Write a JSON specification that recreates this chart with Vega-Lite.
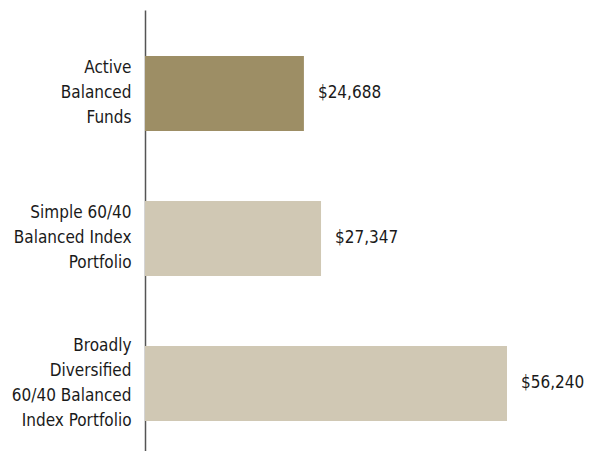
{
  "$schema": "https://vega.github.io/schema/vega-lite/v6.json",
  "width": 440,
  "height": 441,
  "autosize": {"type": "none"},
  "padding": {"left": 145, "top": 10, "right": 4, "bottom": 0},
  "background": "white",
  "config": {"view": {"stroke": null}, "font": "DejaVu Sans Condensed"},
  "data": {
    "values": [
      {"portfolio": "Active|Balanced|Funds", "value": 24688, "kind": "active"},
      {"portfolio": "Simple 60/40|Balanced Index|Portfolio", "value": 27347, "kind": "index"},
      {"portfolio": "Broadly|Diversified|60/40 Balanced|Index Portfolio", "value": 56240, "kind": "index"}
    ]
  },
  "encoding": {
    "y": {
      "field": "portfolio",
      "type": "nominal",
      "sort": null,
      "scale": {"paddingInner": 0.483, "paddingOuter": 0.262, "align": 0.605},
      "axis": {
        "title": null,
        "ticks": false,
        "labelExpr": "split(datum.value, '|')",
        "labelFont": "DejaVu Sans Condensed",
        "labelFontSize": 17,
        "labelLineHeight": 25,
        "labelColor": "#1a1a1a",
        "labelPadding": 14,
        "labelAlign": "right",
        "labelBaseline": "middle",
        "labelOffset": {"condition": {"test": "length(split(datum.value, '|')) == 4", "value": -37.5}, "value": -25},
        "domainColor": "#555555",
        "domainWidth": 1.5,
        "grid": false
      }
    },
    "x": {
      "field": "value",
      "type": "quantitative",
      "scale": {"domain": [0, 68358], "nice": false, "zero": true},
      "axis": null
    }
  },
  "layer": [
    {
      "mark": {"type": "bar"},
      "encoding": {
        "color": {
          "field": "kind",
          "type": "nominal",
          "scale": {"domain": ["active", "index"], "range": ["#9D8E65", "#D0C8B4"]},
          "legend": null
        }
      }
    },
    {
      "mark": {"type": "text", "align": "left", "baseline": "middle", "dx": 14, "fontSize": 17, "font": "DejaVu Sans Condensed", "color": "#1a1a1a"},
      "encoding": {
        "text": {"field": "value", "type": "quantitative", "format": "$,.0f"}
      }
    }
  ]
}
